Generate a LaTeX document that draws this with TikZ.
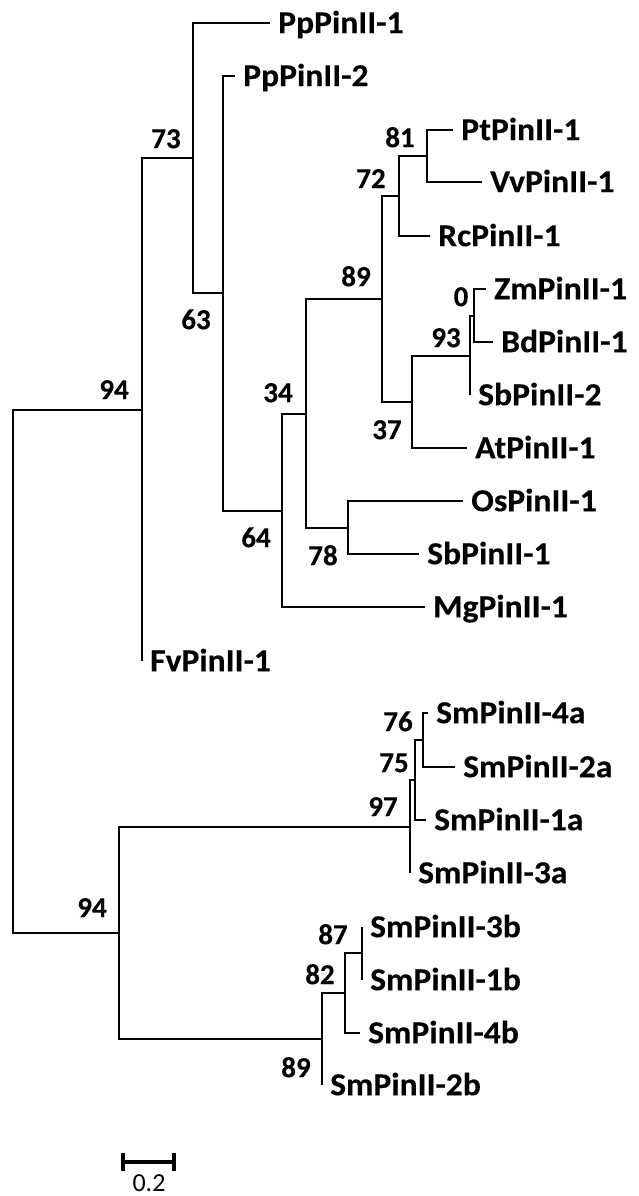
\documentclass[tikz,border=0pt]{standalone}
\usepackage{fontspec}
\setmainfont{Carlito}
\newfontfamily\leaffont{Carlito}[FakeStretch=1.05, FakeBold=0.3]
\newfontfamily\bootfont{Carlito}[FakeBold=0.3]
\begin{document}
\begin{tikzpicture}[x=1pt,y=-1pt,
  br/.style={line width=1.8pt, line join=miter},
  leaf/.style={anchor=west, inner xsep=8pt, inner ysep=0pt, text height=20.4pt, text depth=0pt,
    font=\leaffont\bfseries\fontsize{32}{32}\selectfont},
  boot/.style={inner sep=0pt, text height=18.3pt, text depth=0pt,
    font=\bootfont\bfseries\fontsize{29}{29}\selectfont},
  scalebar/.style={line width=4pt}]
\useasboundingbox (0,0) rectangle (639,1196);
% internal nodes
\coordinate (R) at (13,671);
\coordinate (A) at (142,410);
\coordinate (n73) at (193,158);
\coordinate (n63) at (223,293);
\coordinate (n64) at (282,511);
\coordinate (n34) at (306,414);
\coordinate (n89) at (382,299);
\coordinate (n72) at (399,196);
\coordinate (n81) at (427,156);
\coordinate (n37) at (412,402);
\coordinate (n93) at (470,356);
\coordinate (n0) at (474,316);
\coordinate (n78) at (348,528);
\coordinate (B) at (119,933);
\coordinate (n97) at (410,827);
\coordinate (n75) at (415,780);
\coordinate (n76) at (423,740);
\coordinate (n89b) at (322,1039);
\coordinate (n82) at (345,993);
\coordinate (n87) at (362,953);
% leaves
\node[leaf] (Pp1) at (270,23) {PpPinII-1};
\node[leaf] (Pp2) at (235,76) {PpPinII-2};
\node[leaf] (Pt1) at (453,130) {PtPinII-1};
\node[leaf] (Vv1) at (482,182) {VvPinII-1};
\node[leaf] (Rc1) at (430,236) {RcPinII-1};
\node[leaf] (Zm1) at (486,289) {ZmPinII-1};
\node[leaf] (Bd1) at (493,342) {BdPinII-1};
\node[leaf] (Sb2) at (470,395) {SbPinII-2};
\node[leaf] (At1) at (467,448) {AtPinII-1};
\node[leaf] (Os1) at (463,501) {OsPinII-1};
\node[leaf] (Sb1) at (419,554) {SbPinII-1};
\node[leaf] (Mg1) at (425,607) {MgPinII-1};
\node[leaf] (Fv1) at (142,661) {FvPinII-1};
\node[leaf] (Sm4a) at (428,713) {SmPinII-4a};
\node[leaf] (Sm2a) at (455,767) {SmPinII-2a};
\node[leaf] (Sm1a) at (426,820) {SmPinII-1a};
\node[leaf] (Sm3a) at (410,873) {SmPinII-3a};
\node[leaf] (Sm3b) at (362,927) {SmPinII-3b};
\node[leaf] (Sm1b) at (362,980) {SmPinII-1b};
\node[leaf] (Sm4b) at (360,1033) {SmPinII-4b};
\node[leaf] (Sm2b) at (322,1085) {SmPinII-2b};
% branches
\draw[br] (R) |- (A);
\draw[br] (R) |- (B);
\draw[br] (A) |- (n73);
\draw[br] (A) |- (Fv1.west);
\draw[br] (n73) |- (Pp1.west);
\draw[br] (n73) |- (n63);
\draw[br] (n63) |- (Pp2.west);
\draw[br] (n63) |- (n64);
\draw[br] (n64) |- (n34);
\draw[br] (n64) |- (Mg1.west);
\draw[br] (n34) |- (n89);
\draw[br] (n34) |- (n78);
\draw[br] (n89) |- (n72);
\draw[br] (n89) |- (n37);
\draw[br] (n72) |- (n81);
\draw[br] (n72) |- (Rc1.west);
\draw[br] (n81) |- (Pt1.west);
\draw[br] (n81) |- (Vv1.west);
\draw[br] (n37) |- (n93);
\draw[br] (n37) |- (At1.west);
\draw[br] (n93) |- (n0);
\draw[br] (n93) |- (Sb2.west);
\draw[br] (n0) |- (Zm1.west);
\draw[br] (n0) |- (Bd1.west);
\draw[br] (n78) |- (Os1.west);
\draw[br] (n78) |- (Sb1.west);
\draw[br] (B) |- (n97);
\draw[br] (B) |- (n89b);
\draw[br] (n97) |- (n75);
\draw[br] (n97) |- (Sm3a.west);
\draw[br] (n75) |- (n76);
\draw[br] (n75) |- (Sm1a.west);
\draw[br] (n76) |- (Sm4a.west);
\draw[br] (n76) |- (Sm2a.west);
\draw[br] (n89b) |- (n82);
\draw[br] (n89b) |- (Sm2b.west);
\draw[br] (n82) |- (n87);
\draw[br] (n82) |- (Sm4b.west);
\draw[br] (n87) |- (Sm3b.west);
\draw[br] (n87) |- (Sm1b.west);
% bootstrap values
\node[boot] (b73) at (166,139) {73};
\node[boot] (b63) at (196,320) {63};
\node[boot] (b94a) at (114,390) {94};
\node[boot] (b34) at (278,393) {34};
\node[boot] (b64) at (256,538) {64};
\node[boot] (b89) at (356,277) {89};
\node[boot] (b72) at (371,179) {72};
\node[boot] (b81) at (400,138) {81};
\node[boot] (b0) at (461,297) {0};
\node[boot] (b93) at (446,338) {93};
\node[boot] (b37) at (387,430) {37};
\node[boot] (b78) at (323,556) {78};
\node[boot] (b76) at (398,722) {76};
\node[boot] (b75) at (394,763) {75};
\node[boot] (b97) at (383,807) {97};
\node[boot] (b94b) at (92,908) {94};
\node[boot] (b87) at (333,935) {87};
\node[boot] (b82) at (320,975) {82};
\node[boot] (b89b) at (296,1068) {89};
% scale bar
\coordinate (s1) at (123,1162);
\coordinate (s2) at (174,1162);
\draw[scalebar] (s1) -- (s2);
\draw[scalebar] (123,1153) -- (123,1171);
\draw[scalebar] (174,1153) -- (174,1171);
\node[inner sep=0pt, font=\fontsize{26}{26}\selectfont] (sl) at (149,1183) {0.2};
\end{tikzpicture}
\end{document}
